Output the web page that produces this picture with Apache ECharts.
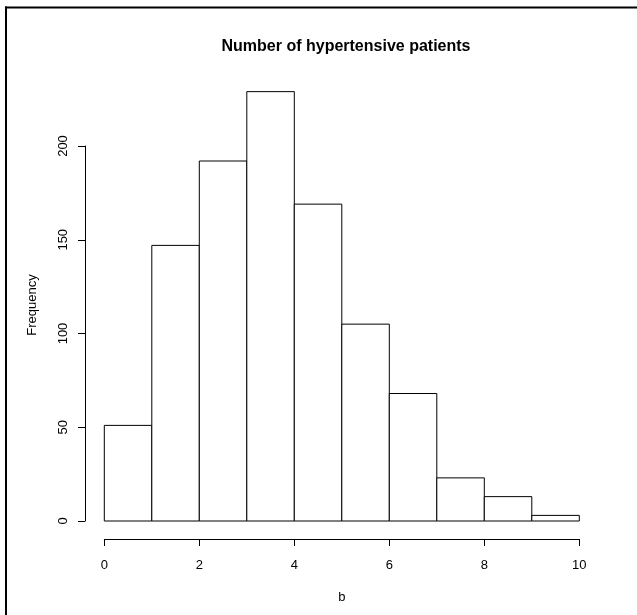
<!DOCTYPE html>
<html>
<head>
<meta charset="utf-8">
<script src="https://cdn.jsdelivr.net/npm/echarts@6/dist/echarts.min.js"></script>
<style>
html,body{margin:0;padding:0;background:#fff;}
#chart{width:637px;height:615px;}
</style>
</head>
<body>
<div id="chart"></div>
<script>
// Data
var binStarts = [0, 1, 2, 3, 4, 5, 6, 7, 8, 9];
var binEnds   = [1, 2, 3, 4, 5, 6, 7, 8, 9, 10];
var counts    = [51, 147, 192, 229, 169, 105, 68, 23, 13, 3];
var titleText = 'Number of hypertensive patients';
var xLabel = 'b';
var yLabel = 'Frequency';

var data = binStarts.map(function (s, i) { return [s, binEnds[i], counts[i]]; });

var chart = echarts.init(document.getElementById('chart'), null, {renderer: 'canvas'});
var font = '"Liberation Sans", Arial, sans-serif';

chart.setOption({
  animation: false,
  backgroundColor: '#fff',
  title: {
    text: titleText,
    left: 341,
    top: 34,
    textAlign: 'center',
    textStyle: {fontFamily: font, fontSize: 16, fontWeight: 'bold', color: '#000'}
  },
  grid: {left: 104.3, right: 57.7, top: 146, bottom: 94, containLabel: false},
  xAxis: {
    type: 'value', min: 0, max: 10, interval: 2,
    offset: 18,
    axisLine: {show: true, onZero: false, lineStyle: {color: '#000', width: 1}},
    axisTick: {show: true, length: 7, lineStyle: {color: '#000'}},
    splitLine: {show: false},
    axisLabel: {margin: 20, fontFamily: font, fontSize: 13, color: '#000'},
    name: xLabel, nameLocation: 'middle', nameGap: 52,
    nameTextStyle: {fontFamily: font, fontSize: 13, color: '#000'}
  },
  yAxis: {
    type: 'value', min: 0, max: 200, interval: 50,
    offset: 19.3,
    axisLine: {show: true, onZero: false, lineStyle: {color: '#000', width: 1}},
    axisTick: {show: true, length: 7, lineStyle: {color: '#000'}},
    splitLine: {show: false},
    axisLabel: {rotate: 90, margin: 15, fontFamily: font, fontSize: 13, color: '#000'}
  },
  graphic: [
    {type: 'line', shape: {x1: 5, y1: 7.5, x2: 637, y2: 7.5}, style: {stroke: '#000', lineWidth: 2}},
    {type: 'line', shape: {x1: 6, y1: 6.5, x2: 6, y2: 615}, style: {stroke: '#000', lineWidth: 2}},
    {type: 'text', x: 32.5, y: 305, rotation: Math.PI / 2,
     style: {text: yLabel, font: '13px ' + font, fill: '#000', textAlign: 'center', textVerticalAlign: 'middle'}}
  ],
  series: [{
    type: 'custom',
    clip: false,
    data: data,
    renderItem: function (params, api) {
      var p0 = api.coord([api.value(0), 0]);
      var p1 = api.coord([api.value(1), api.value(2)]);
      return {
        type: 'rect',
        shape: {x: p0[0], y: p1[1], width: p1[0] - p0[0], height: p0[1] - p1[1]},
        style: {fill: '#fff', stroke: '#000', lineWidth: 1}
      };
    }
  }]
});
</script>
</body>
</html>
